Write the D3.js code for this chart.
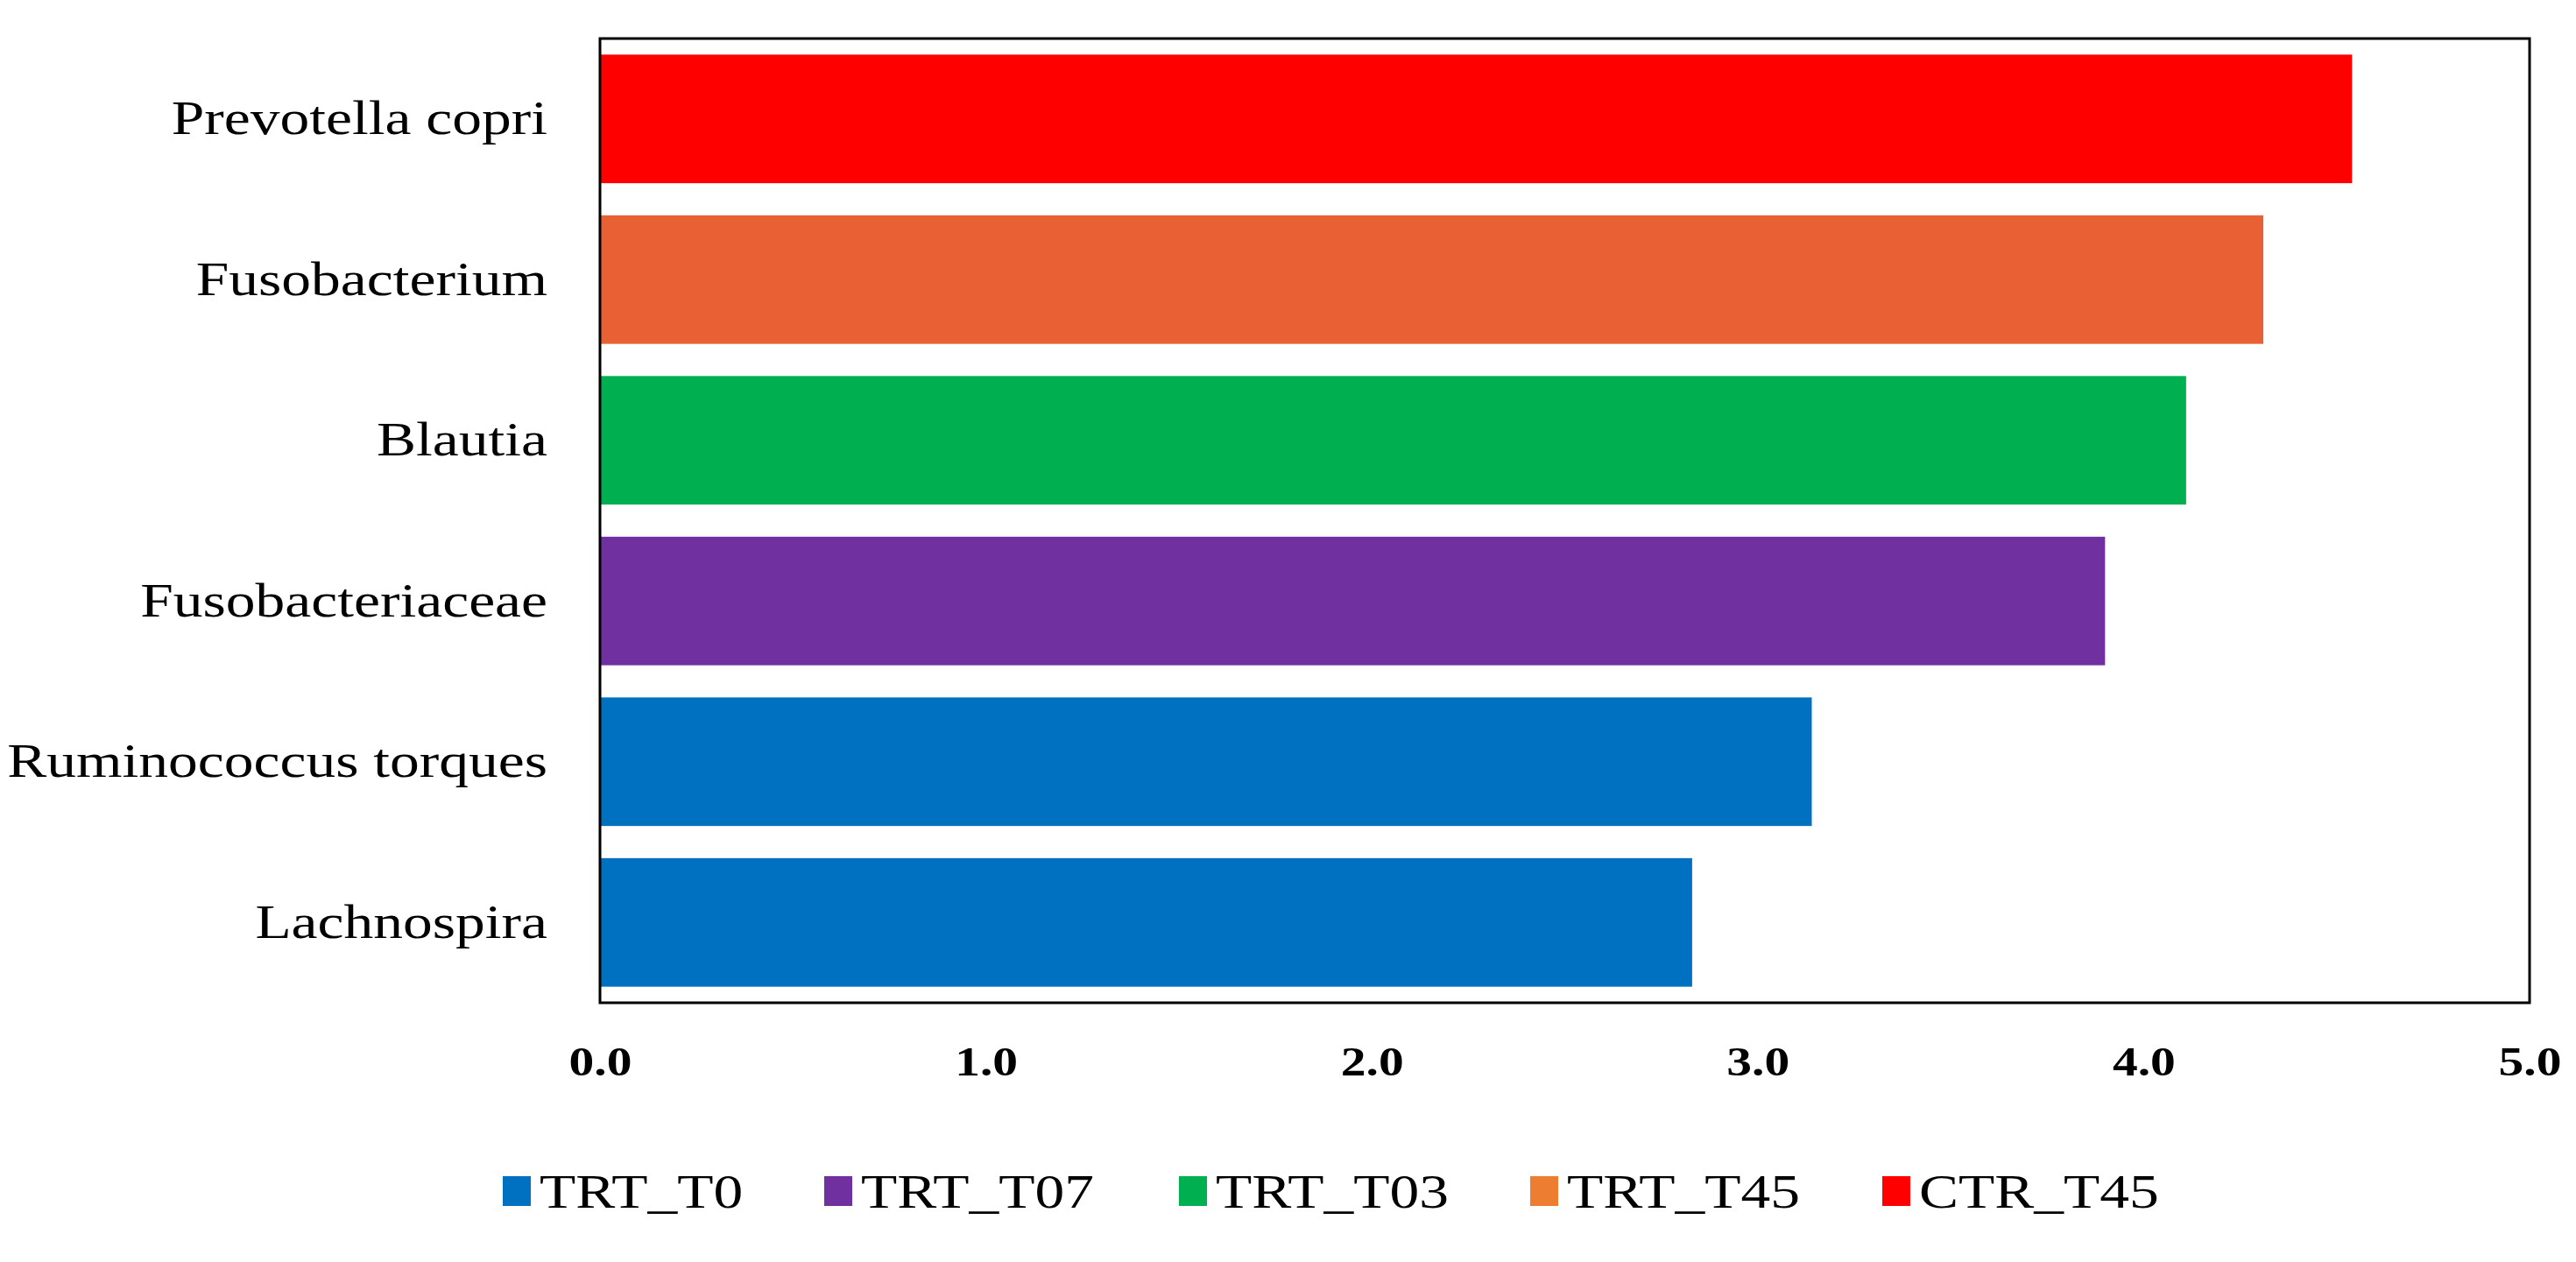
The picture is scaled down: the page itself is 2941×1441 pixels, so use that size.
<!DOCTYPE html>
<html><head><meta charset="utf-8">
<script src="https://cdn.jsdelivr.net/npm/d3@7"></script>
<style>body{margin:0;background:#fff}svg{display:block}text{font-family:"Liberation Serif","Times New Roman",serif}</style>
</head><body><div id="c"></div>
<script>
const categories = ["Prevotella copri","Fusobacterium","Blautia","Fusobacteriaceae","Ruminococcus torques","Lachnospira"];
const values = [4.54, 4.31, 4.11, 3.90, 3.14, 2.83];
const groups = ["CTR_T45","TRT_T45","TRT_T03","TRT_T07","TRT_T0","TRT_T0"];
const legendLabels = ["TRT_T0","TRT_T07","TRT_T03","TRT_T45","CTR_T45"];
const legendColors = ["#0070C0","#7030A0","#00B050","#ED7D31","#FF0000"];
const barColors = {"TRT_T0":"#0070C0","TRT_T07":"#7030A0","TRT_T03":"#00B050","TRT_T45":"#E96035","CTR_T45":"#FF0000"};
const ticks = [0,1,2,3,4,5];

const W=2941,H=1441, L=685,R=2888,T=44,B=1145;
const svg=d3.select("#c").append("svg").attr("width",W).attr("height",H);
const x=d3.scaleLinear().domain([0,5]).range([L,R]);
const y=d3.scaleBand().domain(categories).range([T,B]).paddingInner(0.2).paddingOuter(0.1);

function stretch(sel,f){sel.each(function(){const w=this.getComputedTextLength();d3.select(this).attr("textLength",w*f).attr("lengthAdjust","spacingAndGlyphs");});}

svg.selectAll("rect.bar").data(categories).enter().append("rect")
 .attr("x",x(0)).attr("y",d=>y(d)).attr("height",y.bandwidth())
 .attr("width",(d,i)=>x(values[i])-x(0)).attr("fill",(d,i)=>barColors[groups[i]]);

svg.append("rect").attr("x",L).attr("y",T).attr("width",R-L).attr("height",B-T)
 .attr("fill","none").attr("stroke","#000").attr("stroke-width",3);

const xa=svg.append("g").attr("transform",`translate(0,${B})`)
 .call(d3.axisBottom(x).tickValues(ticks).tickFormat(d3.format(".1f")).tickSize(0).tickPadding(50));
xa.select(".domain").remove();
xa.selectAll("text").attr("font-size",46).attr("font-weight","bold").attr("fill","#000")
 .style("font-family","'Liberation Serif',serif");
stretch(xa.selectAll("text"),1.25);

const ya=svg.append("g").attr("transform",`translate(${L},0)`)
 .call(d3.axisLeft(y).tickSize(0).tickPadding(60));
ya.select(".domain").remove();
ya.selectAll("text").attr("font-size",54).attr("fill","#000").style("font-family","'Liberation Serif',serif");
stretch(ya.selectAll("text"),1.25);

const lx=[574,941,1346,1747,2149];
const lg=svg.append("g");
legendLabels.forEach((t,i)=>{
  lg.append("rect").attr("x",lx[i]).attr("y",1343).attr("width",32).attr("height",34).attr("fill",legendColors[i]);
  const tx=lg.append("text").attr("x",lx[i]+42).attr("y",1360).attr("dy","0.35em").attr("font-size",54).text(t);
  stretch(tx,1.25);
});
</script></body></html>
